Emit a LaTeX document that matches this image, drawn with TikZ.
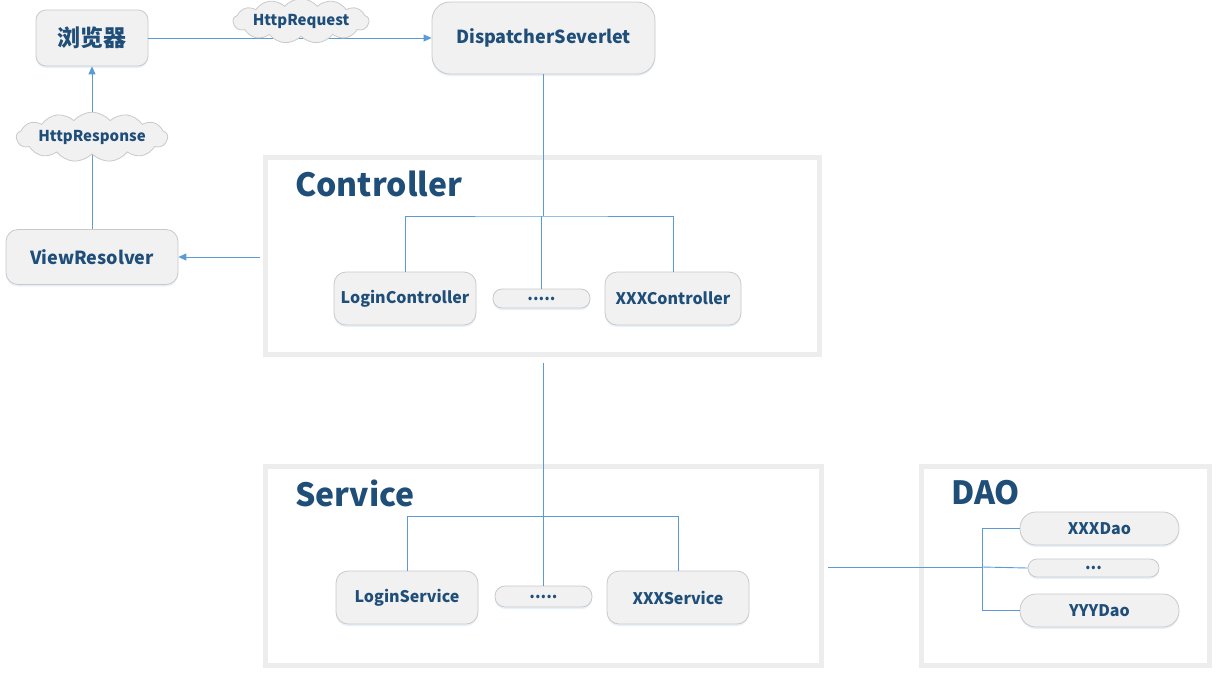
\documentclass[tikz,border=0pt]{standalone}
\usepackage{fontspec}
\setmainfont{Noto Sans CJK SC}
\usetikzlibrary{shapes.symbols,shadows,arrows.meta}
\definecolor{txt}{HTML}{1F4E79}
\definecolor{ln}{HTML}{5B9BD5}
\definecolor{bfill}{HTML}{F1F1F1}
\definecolor{bdraw}{HTML}{C9C9C9}
\definecolor{cont}{HTML}{EDEDED}
\begin{document}
\begin{tikzpicture}[x=1pt,y=-1pt,
  box/.style={draw=bdraw,fill=bfill,line width=0.8pt,text=txt,font=\bfseries\fontsize{16}{18}\selectfont,
     inner sep=0pt,drop shadow={shadow xshift=0pt,shadow yshift=-2pt,fill=ln!40,opacity=0.35}},
  container/.style={draw=cont,line width=5.5pt,inner sep=0pt},
  title/.style={text=txt,font=\bfseries\fontsize{32}{34}\selectfont,anchor=west,inner sep=0pt},
  cl/.style={cloud,cloud puffs=13,cloud puff arc=100,aspect=4.5,draw=bdraw,fill=bfill,text=txt,
     font=\bfseries\fontsize{15}{16}\selectfont,inner sep=0pt,line width=0.8pt},
  conn/.style={draw=ln,line width=0.9pt},
  arr/.style={conn,-{Triangle[length=8pt,width=7pt]}}]
\useasboundingbox (0,0) rectangle (1218,673);
% containers
\node[container,minimum width=554pt,minimum height=197pt] (ctrl) at (542.5,256) {};
\node[container,minimum width=556pt,minimum height=199pt] (serv) at (543.5,566) {};
\node[container,minimum width=288pt,minimum height=199pt] (dao) at (1065.5,566) {};
\node[title] (tctrl) at (295,184) {Controller};
\node[title] (tserv) at (295,493) {Service};
\node[title] (tdao) at (951,493) {DAO};
% boxes
\node[box,rounded corners=10pt,minimum width=112pt,minimum height=56pt,font=\bfseries\fontsize{23}{24}\selectfont] (browser) at (92,38) {浏览器};
\node[box,rounded corners=18pt,minimum width=223pt,minimum height=72pt,font=\bfseries\fontsize{18}{20}\selectfont] (disp) at (543.5,38) {DispatcherSeverlet};
\node[box,rounded corners=12pt,minimum width=172pt,minimum height=55pt,font=\bfseries\fontsize{18}{20}\selectfont] (vr) at (92,257) {ViewResolver};
\node[box,rounded corners=12pt,minimum width=142pt,minimum height=53pt] (lc) at (405,298.5) {LoginController};
\node[box,rounded corners=9pt,minimum width=97pt,minimum height=19pt] (d1) at (541.5,298.5) {.....};
\node[box,rounded corners=12pt,minimum width=136pt,minimum height=53pt] (xc) at (673,298.5) {XXXController};
\node[box,rounded corners=12pt,minimum width=142pt,minimum height=53pt] (ls) at (407,597.5) {LoginService};
\node[box,rounded corners=10pt,minimum width=97pt,minimum height=21pt] (d2) at (543.5,596.5) {.....};
\node[box,rounded corners=12pt,minimum width=142pt,minimum height=53pt] (xs) at (678,597.5) {XXXService};
\node[box,rounded corners=16pt,minimum width=159pt,minimum height=33pt] (xd) at (1099.5,528.5) {XXXDao};
\node[box,rounded corners=9pt,minimum width=131pt,minimum height=18pt] (dd) at (1093.5,568) {...};
\node[box,rounded corners=16pt,minimum width=159pt,minimum height=33pt] (yd) at (1099.5,610.5) {YYYDao};
% coordinates
\coordinate (cj) at (543.5,216);
\coordinate (sj) at (543.5,516);
\coordinate (cs) at (543.5,363);
\coordinate (vrs) at (260,257);
\coordinate (ds) at (828,567);
\coordinate (dj) at (982,567);
% connectors
\draw[arr] (browser.east) -- (disp.west);
\draw[arr] (vr.north) -- (browser.south);
\draw[arr] (vrs) -- (vr.east);
\draw[conn] (disp.south) -- (cj);
\draw[conn] (lc.north) |- (cj) -| (xc.north);
\draw[conn] (d1.north) -- (d1.north |- cj);
\draw[conn] (cs) -- (sj);
\draw[conn] (ls.north) |- (sj) -| (xs.north);
\draw[conn] (sj) -- (d2.north);
\draw[conn] (ds) -- (dj);
\draw[conn] (xd.west) -| (dj);
\draw[conn] (yd.west) -| (dj);
\draw[conn] (dj) -- (dd.west);
% clouds
\node[cl,minimum width=132pt,minimum height=32pt] (req) at (301,21) {HttpRequest};
\node[cl,minimum width=134pt,minimum height=32pt] (resp) at (92,137) {HttpResponse};
\end{tikzpicture}
\end{document}
